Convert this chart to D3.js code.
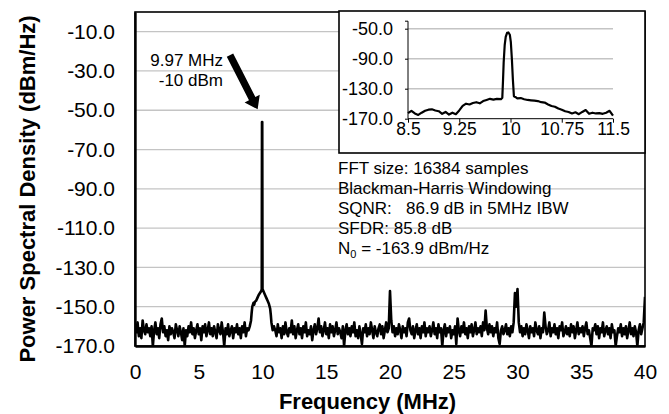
<!DOCTYPE html>
<html><head><meta charset="utf-8">
<script src="https://cdn.jsdelivr.net/npm/d3@7"></script>
<style>
html,body{margin:0;padding:0;background:#fff;}
svg{display:block;font-family:Arial,"Liberation Sans",sans-serif;}
</style></head>
<body><svg id="chart" width="669" height="414"></svg>
<script>
// ---------- DATA ----------
const yTicks = [-170, -150, -130, -110, -90, -70, -50, -30, -10];
const xTicks = [0, 5, 10, 15, 20, 25, 30, 35, 40];
const insetYTicks = [-170, -130, -90, -50];
const insetXTicks = [8.5, 9.25, 10, 10.75, 11.5];

// noise floor 0.0 .. 9.0 MHz, 0.1 MHz bins
const binStep = 0.1;
const noiseLowStart = 0.0;
const noiseLow = [
  -160,-163,-158,-165,-161,-166,-157,-162,-164,-159,
  -163,-161,-165,-160,-170,-162,-158,-164,-161,-166,
  -159,-156,-163,-160,-165,-162,-167,-160,-164,-161,
  -163,-166,-159,-162,-165,-160,-163,-167,-161,-170,
  -162,-165,-160,-163,-158,-164,-161,-166,-162,-159,
  -164,-161,-167,-160,-163,-159,-165,-162,-158,-164,
  -161,-165,-160,-163,-166,-159,-162,-164,-158,-163,
  -170,-161,-164,-159,-165,-162,-160,-166,-161,-163,
  -159,-164,-161,-166,-160,-163,-158,-165,-161,-162,
  -160];
// carrier region (MHz, dBm/Hz)
const carrierFreq = [9.1, 9.15, 9.2, 9.3, 9.35, 9.4, 9.5, 9.6, 9.7, 9.8, 9.9, 9.94, 9.96, 9.98, 10.0, 10.1, 10.2, 10.3, 10.4, 10.5, 10.6, 10.65, 10.7, 10.8, 10.9];
const carrierPsd  = [-157,-153,-150,-148,-149,-147.5,-147,-145.5,-144,-143,-142,-141,-56,-56,-141,-142.5,-144,-145.5,-147,-148.5,-151,-154,-158,-162,-160];
// noise floor 11.0 .. 40.0 MHz, 0.1 MHz bins (with spurs)
const noiseHighStart = 11.0;
const noiseHigh = [
  -162,-165,-159,-163,-161,-166,-160,-164,-158,-163,
  -165,-161,-163,-157,-164,-160,-166,-162,-159,-164,
  -161,-166,-160,-163,-158,-165,-162,-164,-160,-167,
  -162,-159,-164,-161,-156,-163,-160,-165,-162,-158,
  -164,-161,-166,-159,-163,-160,-165,-162,-158,-164,
  -161,-163,-166,-160,-170,-162,-159,-164,-161,-165,
  -160,-163,-158,-165,-162,-166,-160,-164,-169,-161,
  -163,-159,-165,-161,-164,-158,-162,-166,-160,-163,
  -165,-161,-159,-164,-160,-166,-162,-158,-163,-161,
  -142,-157,-163,-160,-165,-161,-164,-159,-162,-166,
  -160,-163,-161,-165,-158,-156,-162,-164,-160,-166,
  -162,-159,-164,-161,-166,-160,-163,-158,-165,-161,
  -163,-160,-165,-162,-158,-164,-161,-166,-159,-163,
  -161,-170,-162,-159,-165,-161,-163,-160,-166,-162,
  -164,-160,-169,-156,-162,-165,-160,-163,-158,-164,
  -161,-166,-160,-163,-159,-165,-162,-158,-164,-161,
  -163,-160,-165,-158,-162,-152,-161,-164,-159,-163,
  -160,-165,-161,-163,-158,-166,-169,-162,-160,-164,
  -162,-159,-164,-161,-165,-160,-163,-158,-143,-150,
  -141,-158,-163,-160,-165,-161,-164,-159,-162,-166,
  -160,-163,-161,-165,-158,-162,-164,-160,-166,-161,
  -163,-153,-160,-164,-162,-158,-165,-161,-163,-159,
  -164,-161,-166,-160,-162,-158,-165,-163,-160,-164,
  -161,-165,-159,-163,-160,-166,-162,-158,-164,-161,
  -163,-160,-165,-161,-158,-164,-162,-166,-170,-161,
  -162,-159,-164,-160,-166,-161,-163,-158,-165,-162,
  -160,-164,-161,-166,-159,-163,-162,-171,-165,-161,
  -163,-159,-165,-161,-164,-160,-166,-162,-158,-164,
  -161,-165,-160,-163,-170,-162,-159,-164,-161,-158,
  -145];

// inset (zoom 8.5 .. 11.5 MHz)
const insetFreq = [8.5,8.55,8.6,8.65,8.7,8.75,8.8,8.85,8.9,8.95,9.0,9.05,9.1,9.15,9.2,9.25,9.3,9.35,9.4,9.45,9.5,9.55,9.6,9.65,9.7,9.75,9.8,9.86,
  9.88,9.89,9.9,9.915,9.93,9.95,9.97,9.99,10.005,10.02,10.035,10.05,10.07,10.1,
  10.15,10.2,10.25,10.3,10.35,10.4,10.45,10.5,10.55,10.6,10.65,10.7,10.75,10.8,10.85,10.9,10.95,11.0,11.05,11.1,11.15,11.2,11.25,11.3,11.35,11.4,11.45,11.5];
const insetPsd = [-162.5,-159.5,-163,-165,-162,-159.5,-158,-157.5,-159,-160,-163.5,-161,-164.5,-162,-164,-159,-153,-150,-151,-149,-148,-149.5,-146.5,-145,-143.5,-144.5,-143.5,-144,
  -142,-120,-95,-72,-61,-55.5,-55,-58,-68,-90,-118,-140,-141,-143,
  -142.5,-144,-145,-145.5,-146,-146.5,-148,-148.5,-151,-153,-154,-156.5,-158,-160,-161,-163,-161.5,-164,-161,-158.5,-163.5,-162,-163,-162.5,-163.5,-162,-159.5,-166];

const infoLines = ["FFT size: 16384 samples", "Blackman-Harris Windowing", "SQNR:   86.9 dB in 5MHz IBW", "SFDR: 85.8 dB"];
const annotLines = ["9.97 MHz", "-10 dBm"];

// ---------- BUILD SERIES ----------
const mainSeries = [];
noiseLow.forEach((v, i) => mainSeries.push([noiseLowStart + i * binStep, v]));
carrierFreq.forEach((f, i) => mainSeries.push([f, carrierPsd[i]]));
noiseHigh.forEach((v, i) => mainSeries.push([noiseHighStart + i * binStep, v]));
const insetSeries = insetFreq.map((f, i) => [f, insetPsd[i]]);

// ---------- LAYOUT ----------
const FONT = "Arial, 'Liberation Sans', sans-serif";
const svg = d3.select("#chart");
const M = {left: 135, right: 645, top: 12, bottom: 346};
const x = d3.scaleLinear().domain([0, 40]).range([M.left, M.right]);
const y = d3.scaleLinear().domain([-170, 0]).range([M.bottom, M.top]);
const fmt1 = d => d.toFixed(1);

const grid = "#c4c4c4";

// gridlines
svg.append("g").selectAll("line").data(yTicks.filter(t => t > -170)).join("line")
  .attr("x1", M.left).attr("x2", M.right)
  .attr("y1", d => y(d)).attr("y2", d => y(d))
  .attr("stroke", grid).attr("stroke-width", 1.3);

// clip
svg.append("clipPath").attr("id", "clipMain").append("rect")
  .attr("x", M.left).attr("y", M.top).attr("width", M.right - M.left).attr("height", M.bottom - M.top);

// trace
const line = d3.line().x(d => x(d[0])).y(d => y(Math.max(-170, d[1])));
svg.append("path").datum(mainSeries).attr("clip-path", "url(#clipMain)")
  .attr("d", line).attr("fill", "none").attr("stroke", "#000").attr("stroke-width", 2.6)
  .attr("stroke-linejoin", "round");

// frame
svg.append("rect").attr("x", M.left).attr("y", M.top).attr("width", M.right - M.left).attr("height", M.bottom - M.top)
  .attr("fill", "none").attr("stroke", "#000").attr("stroke-width", 1.6);
const yAxis = d3.axisLeft(y).tickValues(yTicks).tickSize(0).tickPadding(20).tickFormat(fmt1);
const gy = svg.append("g").attr("transform", `translate(${M.left},0)`).call(yAxis);
gy.select(".domain").attr("stroke-width", 2.4);
gy.selectAll("text").attr("font-size", 21).attr("fill", "#000").attr("font-family", FONT);

const xAxis = d3.axisBottom(x).tickValues(xTicks).tickSize(0).tickPadding(18).tickFormat(d3.format("d"));
const gx = svg.append("g").attr("transform", `translate(0,${M.bottom})`).call(xAxis);
gx.select(".domain").attr("stroke-width", 2.4);
gx.selectAll("text").attr("font-size", 21).attr("fill", "#000").attr("font-family", FONT);

// axis titles
svg.append("text").attr("x", 367.5).attr("y", 409).attr("text-anchor", "middle")
  .attr("font-size", 22).attr("font-weight", "bold").text("Frequency (MHz)");
svg.append("text").attr("transform", `translate(35,189) rotate(-90)`).attr("text-anchor", "middle")
  .attr("font-size", 22).attr("font-weight", "bold").text("Power Spectral Density (dBm/Hz)");

// annotation
const ann = svg.append("g");
annotLines.forEach((t, i) => ann.append("text").attr("x", 223).attr("y", 66 + i * 19.5)
  .attr("text-anchor", "end").attr("font-size", 17).text(t));
// arrow (tail/tip expressed in data units)
const arrowTail = [7.45, -22.0], arrowTip = [9.62, -49.5];
{
  const x0 = x(arrowTail[0]), y0 = y(arrowTail[1]), x1 = x(arrowTip[0]), y1 = y(arrowTip[1]);
  const ang = Math.atan2(y1 - y0, x1 - x0), L = Math.hypot(x1 - x0, y1 - y0);
  const hw = 3.6, hl = 12, hh = 8.5;
  const pts = [[0, -hw], [L - hl, -hw], [L - hl, -hh], [L, 0], [L - hl, hh], [L - hl, hw], [0, hw]];
  ann.append("path").attr("d", d3.line()(pts) + "Z")
    .attr("transform", `translate(${x0},${y0}) rotate(${ang * 180 / Math.PI})`).attr("fill", "#000");
}

// info text
const info = svg.append("g");
infoLines.forEach((t, i) => info.append("text").attr("x", 338).attr("y", 174 + i * 20)
  .attr("font-size", 17).attr("xml:space", "preserve").style("white-space", "pre").text(t));
const n0 = info.append("text").attr("x", 338).attr("y", 174 + 4 * 20).attr("font-size", 17);
n0.append("tspan").text("N");
n0.append("tspan").attr("font-size", 11).attr("dy", 4).text("0");
n0.append("tspan").attr("dy", -4).text(" = -163.9 dBm/Hz");

// ---------- INSET ----------
const IB = {x0: 339, y0: 11, x1: 645, y1: 153};
svg.append("rect").attr("x", IB.x0).attr("y", IB.y0).attr("width", IB.x1 - IB.x0).attr("height", IB.y1 - IB.y0)
  .attr("fill", "#fff").attr("stroke", "#000").attr("stroke-width", 1.6);
const ix = d3.scaleLinear().domain([8.5, 11.5]).range([408, 613]);
const iy = d3.scaleLinear().domain([-170, -40]).range([118.7, 21.2]);
svg.append("g").selectAll("line").data(insetYTicks.filter(t => t > -170)).join("line")
  .attr("x1", ix(8.5)).attr("x2", ix(11.5)).attr("y1", d => iy(d)).attr("y2", d => iy(d))
  .attr("stroke", grid).attr("stroke-width", 1.5);
const iyAxis = d3.axisLeft(iy).tickValues(insetYTicks).tickSize(3).tickPadding(12).tickFormat(fmt1);
const giy = svg.append("g").attr("transform", `translate(${ix(8.5)},0)`).call(iyAxis);
giy.selectAll("text").attr("font-size", 18).attr("fill", "#000").attr("font-family", FONT);
giy.select(".domain").attr("d", `M-3,${iy(-40)}H0V${iy(-170)}`);
const ixAxis = d3.axisBottom(ix).tickValues(insetXTicks).tickSize(4).tickPadding(0).tickFormat(d => String(d));
const gix = svg.append("g").attr("transform", `translate(0,${iy(-170)})`).call(ixAxis);
gix.selectAll("text").attr("font-size", 17.5).attr("fill", "#000").attr("font-family", FONT);
gix.select(".domain").attr("d", `M${ix(8.5)},0H${ix(11.5)}`);
svg.append("path").datum(insetSeries)
  .attr("d", d3.line().x(d => ix(d[0])).y(d => iy(d[1]))).attr("fill", "none")
  .attr("stroke", "#000").attr("stroke-width", 2.2).attr("stroke-linejoin", "round");
</script></body></html>
